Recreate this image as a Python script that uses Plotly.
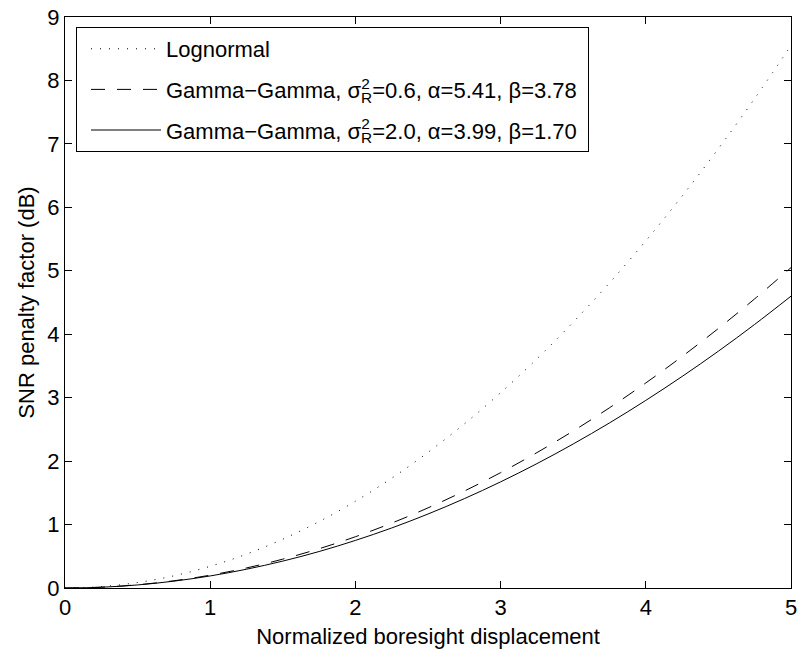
import plotly.graph_objects as go

# Data
displacement = [0, 0.25, 0.5, 0.75, 1, 1.25, 1.5, 1.75, 2, 2.25, 2.5, 2.75, 3,
                3.25, 3.5, 3.75, 4, 4.25, 4.5, 4.75, 5]
lognormal = [0, 0.021, 0.086, 0.192, 0.342, 0.534, 0.770, 1.047, 1.368, 1.731,
             2.138, 2.586, 3.078, 3.612, 4.190, 4.809, 5.472, 6.177, 6.925,
             7.716, 8.55]
gg_weak = [0, 0.013, 0.051, 0.114, 0.202, 0.316, 0.455, 0.619, 0.808, 1.023,
           1.263, 1.528, 1.818, 2.134, 2.475, 2.841, 3.232, 3.649, 4.091,
           4.558, 5.05]
gg_strong = [0, 0.012, 0.048, 0.108, 0.190, 0.296, 0.424, 0.575, 0.750, 0.946,
             1.166, 1.408, 1.673, 1.960, 2.270, 2.602, 2.957, 3.334, 3.733,
             4.155, 4.600]

names = [
    "Lognormal",
    "Gamma\u2212Gamma, \u03c3<sup style='letter-spacing:-8.6px'>2</sup><sub>R</sub>=0.6, \u03b1=5.41, \u03b2=3.78\u00a0",
    "Gamma\u2212Gamma, \u03c3<sup style='letter-spacing:-8.6px'>2</sup><sub>R</sub>=2.0, \u03b1=3.99, \u03b2=1.70\u00a0",
]
dashes = ["1px,8px", "14px,12px", "solid"]
series = [lognormal, gg_weak, gg_strong]

FONT = "Liberation Sans, Arial, Helvetica, sans-serif"

fig = go.Figure()
for i, (name, ys, dash) in enumerate(zip(names, series, dashes)):
    fig.add_trace(go.Scatter(
        x=displacement, y=ys, mode="lines", name=name, legendgroup=f"g{i}",
        line=dict(color="black", width=1, dash=dash, shape="spline"),
    ))

axis_common = dict(
    showline=True, linecolor="black", linewidth=1, mirror="ticks",
    ticks="inside", ticklen=7, tickwidth=1, tickcolor="black",
    showgrid=False, zeroline=False, automargin=False,
    tickfont=dict(family=FONT, size=22, color="black"),
)

fig.update_layout(
    width=800, height=651,
    margin=dict(l=65, r=9, t=17, b=63, autoexpand=False),
    paper_bgcolor="white", plot_bgcolor="white",
    font=dict(family=FONT, size=22, color="black"),
    xaxis=dict(range=[0, 5], dtick=1, tick0=0,
               title=dict(text="Normalized boresight displacement",
                          font=dict(family=FONT, size=22, color="black"),
                          standoff=9),
               **axis_common),
    yaxis=dict(range=[0, 9], dtick=1, tick0=0,
               title=dict(text="SNR penalty factor (dB)",
                          font=dict(family=FONT, size=22, color="black"),
                          standoff=6),
               **axis_common),
    legend=dict(x=(76 - 65) / 726, y=(588 - 27) / 571, xanchor="left", yanchor="top",
                bgcolor="white", bordercolor="black", borderwidth=1,
                font=dict(family=FONT, size=22, color="black"),
                itemwidth=70, indentation=9,
                traceorder="grouped", tracegroupgap=9),
    showlegend=True,
)

fig.write_html("out.html", config={"displayModeBar": False},
               post_script="document.body.style.margin='0';")
